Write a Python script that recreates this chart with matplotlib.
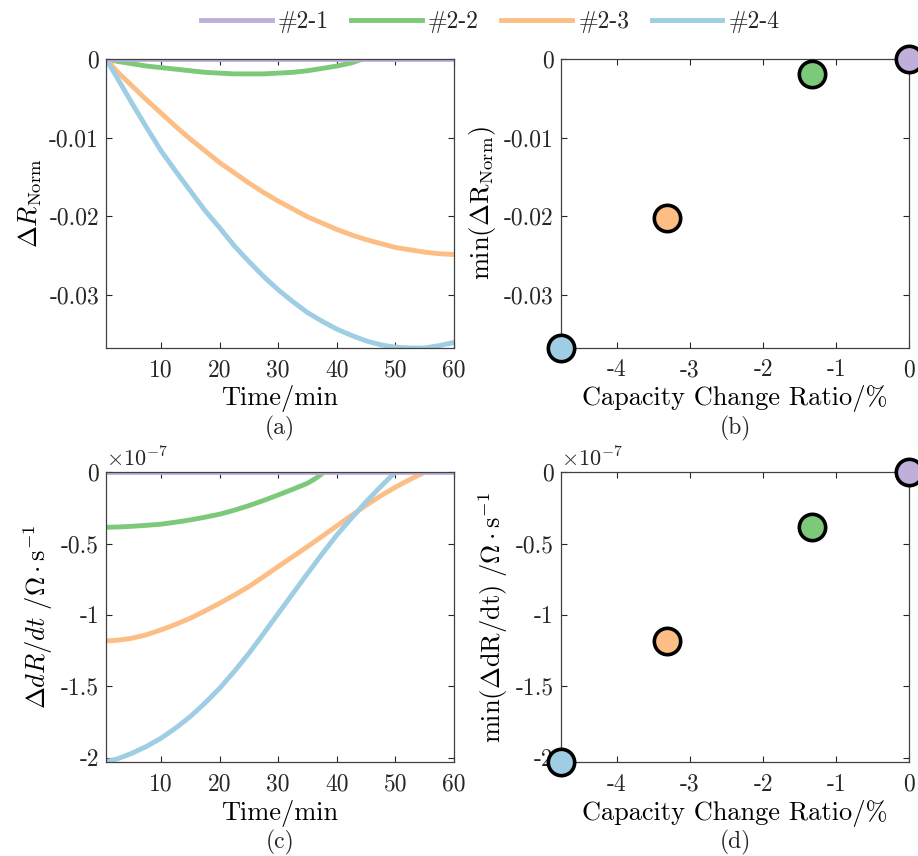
import numpy as np
import matplotlib
matplotlib.use('Agg')
import matplotlib.pyplot as plt
from matplotlib.ticker import FuncFormatter

plt.rcParams['font.family'] = 'cmr10'
plt.rcParams['mathtext.fontset'] = 'cm'
plt.rcParams['axes.unicode_minus'] = False
plt.rcParams['axes.formatter.use_mathtext'] = True
plt.rcParams['text.color'] = '#262626'

labels = ['#2-1', '#2-2', '#2-3', '#2-4']
colors = ['#C0AFD9', '#7DC97A', '#FDBE85', '#9ECDE4']

# time axis (min)
t_full = [0.6, 2.5, 5, 7.5, 10, 12.5, 15, 17.5, 20, 22.5, 25, 27.5, 30,
          32.5, 35, 37.5, 40, 42.5, 45, 47.5, 50, 52.5, 55, 57.5, 60]

# (a) normalised resistance change
t_a2 = [0.6, 2.5, 5, 7.5, 10, 12.5, 15, 17.5, 20, 22.5, 25, 27.5, 30,
        32.5, 35, 37.5, 40, 42.5, 44.5]
r_a1 = [0] * 25
r_a2 = [0, -0.0003, -0.0006, -0.0009, -0.0011, -0.0013, -0.0015, -0.0017, -0.0018, -0.0019,
        -0.0019, -0.0019, -0.0018, -0.0017, -0.0015, -0.0012, -0.0009, -0.0005, 0]
r_a3 = [0, -0.0016, -0.0034, -0.0052, -0.0069, -0.0086, -0.0102, -0.0117, -0.0132, -0.0145,
        -0.0158, -0.0170, -0.0181, -0.0191, -0.0201, -0.0209, -0.0217, -0.0224, -0.0230,
        -0.0235, -0.0240, -0.0243, -0.0246, -0.0248, -0.0249]
r_a4 = [0, -0.0024, -0.0056, -0.0087, -0.0117, -0.0143, -0.0168, -0.0193, -0.0215, -0.0238,
        -0.0258, -0.0277, -0.0294, -0.0309, -0.0323, -0.0334, -0.0344, -0.0352, -0.0359,
        -0.0364, -0.0367, -0.0368, -0.0368, -0.0365, -0.0361]

# (c) dR/dt change, x1e-7 Ohm/s
t_c2 = [0.6, 2.5, 5, 7.5, 10, 12.5, 15, 17.5, 20, 22.5, 25, 27.5, 30, 32.5, 35, 36.5, 37.8]
t_c3 = t_full[:23]
t_c4 = t_full[:21]
d_c1 = [0] * 25
d_c2 = [-0.386, -0.384, -0.379, -0.372, -0.364, -0.350, -0.334, -0.315, -0.294, -0.266,
        -0.234, -0.198, -0.159, -0.119, -0.077, -0.040, 0]
d_c3 = [-1.182, -1.178, -1.164, -1.139, -1.105, -1.066, -1.023, -0.972, -0.918, -0.861,
        -0.801, -0.732, -0.661, -0.591, -0.521, -0.449, -0.376, -0.303, -0.232, -0.165,
        -0.105, -0.050, 0]
d_c4 = [-2.028, -2.010, -1.970, -1.922, -1.864, -1.793, -1.712, -1.618, -1.514, -1.396,
        -1.269, -1.131, -0.990, -0.850, -0.710, -0.572, -0.440, -0.322, -0.207, -0.100, 0]

# (b), (d) summary points
cap_ratio = [0, -1.33, -3.31, -4.77]
min_r = [0, -0.0019, -0.0202, -0.0368]
min_d = [0, -0.386, -1.18, -2.03]

fig = plt.figure(figsize=(9.18, 8.56), dpi=100)
ax_a = fig.add_axes([0.1155, 0.5935, 0.379, 0.3376])
ax_b = fig.add_axes([0.6108, 0.5935, 0.3797, 0.3376])
ax_c = fig.add_axes([0.1155, 0.1095, 0.379, 0.3388])
ax_d = fig.add_axes([0.6108, 0.1095, 0.3797, 0.3388])

lw = 3.5
ax_a.plot(t_a2, r_a2, color=colors[1], lw=lw, label=labels[1])
ax_a.plot(t_full, r_a3, color=colors[2], lw=lw, label=labels[2])
ax_a.plot(t_full, r_a4, color=colors[3], lw=lw, label=labels[3])
ax_a.plot(t_full, r_a1, color=colors[0], lw=lw, label=labels[0], zorder=2.2)

ax_c.plot(t_c2, d_c2, color=colors[1], lw=lw)
ax_c.plot(t_c3, d_c3, color=colors[2], lw=lw)
ax_c.plot(t_c4, d_c4, color=colors[3], lw=lw)
ax_c.plot(t_full, d_c1, color=colors[0], lw=lw, zorder=2.2)

for i in range(4):
    ax_b.scatter(cap_ratio[i], min_r[i], s=360, color=colors[i], edgecolors='k',
                 linewidths=2.6, clip_on=False, zorder=3)
    ax_d.scatter(cap_ratio[i], min_d[i], s=360, color=colors[i], edgecolors='k',
                 linewidths=2.6, clip_on=False, zorder=3)

fmt = FuncFormatter(lambda v, p: '%g' % round(v, 6))
for ax in [ax_a, ax_b, ax_c, ax_d]:
    ax.tick_params(direction='in', top=True, right=True, length=4, width=0.8,
                   labelsize=17, colors='#262626', pad=5)
    ax.tick_params(axis='x', pad=8)
    for s in ax.spines.values():
        s.set_color('#404040')
        s.set_linewidth(0.9)
    ax.yaxis.set_major_formatter(fmt)
    ax.xaxis.set_major_formatter(fmt)

for ax in [ax_a, ax_c]:
    ax.set_xlim(0.6, 60)
    ax.set_xticks([10, 20, 30, 40, 50, 60])
    ax.set_xlabel('Time/min', fontsize=19, labelpad=3)
for ax in [ax_b, ax_d]:
    ax.set_xlim(-4.77, 0)
    ax.set_xticks([-4, -3, -2, -1, 0])
    ax.set_xlabel('Capacity Change Ratio/%', fontsize=19, labelpad=3)

ax_a.set_ylim(-0.0368, 0)
ax_b.set_ylim(-0.0368, 0)
ax_a.set_yticks([-0.03, -0.02, -0.01, 0])
ax_b.set_yticks([-0.03, -0.02, -0.01, 0])
ax_c.set_ylim(-2.033, 0)
ax_d.set_ylim(-2.033, 0)
ax_c.set_yticks([-2, -1.5, -1, -0.5, 0])
ax_d.set_yticks([-2, -1.5, -1, -0.5, 0])

ax_a.set_ylabel(r'$\Delta R_{\mathrm{Norm}}$', fontsize=19)
ax_b.set_ylabel(r'$\mathrm{min}(\Delta\mathrm{R}_{\mathrm{Norm}})$', fontsize=19)
ax_c.set_ylabel(r'$\Delta dR/dt\ /\Omega\cdot\mathrm{s}^{-1}$', fontsize=19)
ax_d.set_ylabel(r'$\mathrm{min}(\Delta\mathrm{dR/dt})\ /\Omega\cdot\mathrm{s}^{-1}$', fontsize=19)

for ax in [ax_c, ax_d]:
    ax.text(0.0, 1.005, r'$\times10^{-7}$', transform=ax.transAxes, fontsize=16,
            ha='left', va='bottom')

for ax, tag in zip([ax_a, ax_b, ax_c, ax_d], ['(a)', '(b)', '(c)', '(d)']):
    ax.text(0.5, -0.277, tag, transform=ax.transAxes, fontsize=17,
            ha='center', va='center')

h, l = ax_a.get_legend_handles_labels()
order = [3, 0, 1, 2]
fig.legend([h[i] for i in order], [l[i] for i in order], loc='center',
           bbox_to_anchor=(0.534, 0.974), ncol=4, frameon=False, fontsize=17,
           handlelength=3.0, handletextpad=0.25, columnspacing=0.95)

plt.savefig('out.png', dpi=100)
